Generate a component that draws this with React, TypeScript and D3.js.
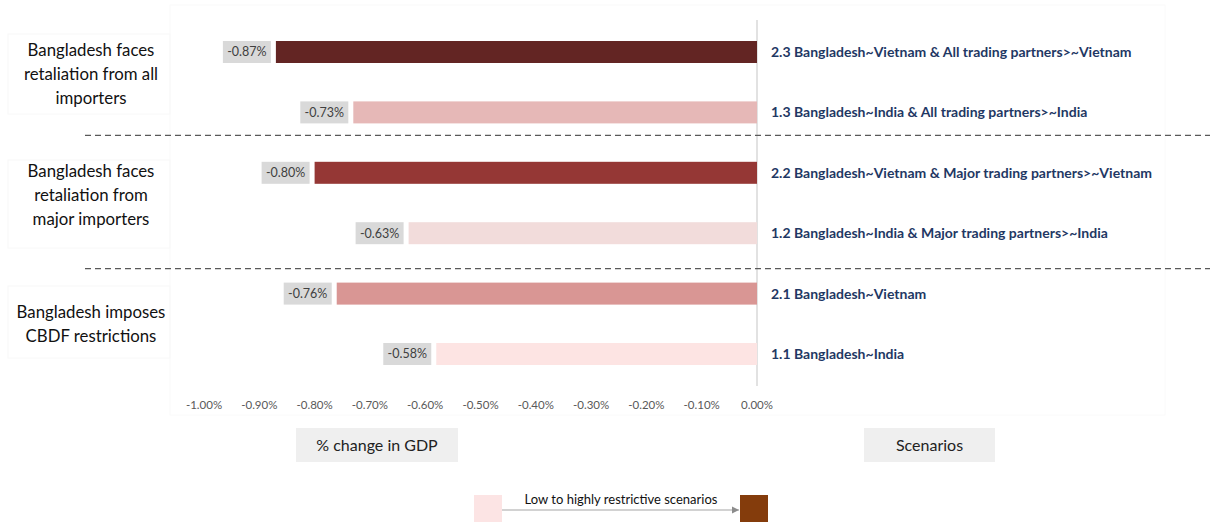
import React from "react";
import * as d3 from "d3";

const scenarios = [
  "2.3 Bangladesh~Vietnam & All trading partners>~Vietnam",
  "1.3 Bangladesh~India & All trading partners>~India",
  "2.2 Bangladesh~Vietnam & Major trading partners>~Vietnam",
  "1.2 Bangladesh~India & Major trading partners>~India",
  "2.1 Bangladesh~Vietnam",
  "1.1 Bangladesh~India",
];
const values = [-0.87, -0.73, -0.8, -0.63, -0.76, -0.58];
const barColors = ["#632523", "#E6B8B7", "#953735", "#F2DCDB", "#D99694", "#FDE4E3"];
const tickValues = [-1.0, -0.9, -0.8, -0.7, -0.6, -0.5, -0.4, -0.3, -0.2, -0.1, 0];
const groupLabels = [
  ["Bangladesh faces", "retaliation from all", "importers"],
  ["Bangladesh faces", "retaliation from", "major importers"],
  ["Bangladesh imposes", "CBDF restrictions"],
];
const groupRows = [
  [0, 1],
  [2, 3],
  [4, 5],
];

const W = 1210;
const H = 522;
const FONT = "Lato, 'Open Sans', sans-serif";

export default function App() {
  const x = d3.scaleLinear().domain([-1, 0]).range([204, 757]);
  const y = d3.scalePoint<string>().domain(scenarios).range([21.8, 384.2]).padding(0.5);
  const barH = 22;
  const fmt = (v: number) => d3.format(".2f")(v).replace("\u2212", "-") + "%";
  const dashY = [y(scenarios[1])! + 23, y(scenarios[4])! - 25];

  return (
    <svg width={W} height={H} style={{ position: "absolute", left: 0, top: 0, background: "#fff" }} fontFamily={FONT}>
      {/* faint frames */}
      <rect x={170} y={5} width={995} height={410} fill="none" stroke="#FAFAFA" />
      {[[8, 34, 162, 80], [8, 160, 162, 88], [8, 286, 162, 72]].map((r, i) => (
        <rect key={i} x={r[0]} y={r[1]} width={r[2]} height={r[3]} fill="none" stroke="#F8F8F8" />
      ))}

      {/* zero line */}
      <line x1={x(0)} x2={x(0)} y1={20} y2={386} stroke="#D9D9D9" strokeWidth={1.5} />

      {/* dashed separators */}
      {dashY.map((dy, i) => (
        <line key={i} x1={85} x2={W} y1={dy} y2={dy} stroke="#595959" strokeWidth={1.2} strokeDasharray="6,4" />
      ))}

      {/* bars */}
      {scenarios.map((s, i) => {
        const cy = y(s)!;
        const x0 = x(values[i]);
        return (
          <g key={s}>
            <rect x={x0} y={cy - barH / 2} width={x(0) - x0} height={barH} fill={barColors[i]} />
            <rect x={x0 - 53} y={cy - barH / 2} width={48} height={barH} fill="#D9D9D9" />
            <text x={x0 - 29} y={cy} dy="0.35em" textAnchor="middle" fontSize={12.5} fill="#404040">
              {fmt(values[i])}
            </text>
            <text x={771} y={cy} dy="0.35em" fontSize={14} fontWeight="bold" fill="#1F3864">
              {s}
            </text>
          </g>
        );
      })}

      {/* group labels */}
      {groupLabels.map((lines, gi) => {
        const c = (y(scenarios[groupRows[gi][0]])! + y(scenarios[groupRows[gi][1]])!) / 2 + (gi === 2 ? 0 : -8);
        const lh = 24;
        const start = c - ((lines.length - 1) * lh) / 2;
        return (
          <text key={gi} textAnchor="middle" fontSize={16.8} fill="#111">
            {lines.map((l, li) => (
              <tspan key={li} x={91} y={start + li * lh} dy="0.35em">
                {l}
              </tspan>
            ))}
          </text>
        );
      })}

      {/* x axis tick labels */}
      {tickValues.map((t) => (
        <text key={t} x={x(t)} y={405} dy="0.35em" textAnchor="middle" fontSize={11.5} fill="#595959">
          {fmt(t)}
        </text>
      ))}

      {/* bottom boxes */}
      <rect x={296} y={428} width={162} height={34} fill="#EFEFEF" />
      <text x={377} y={445} dy="0.35em" textAnchor="middle" fontSize={16} fill="#222">
        % change in GDP
      </text>
      <rect x={864} y={428} width={131} height={34} fill="#EFEFEF" />
      <text x={929.5} y={445} dy="0.35em" textAnchor="middle" fontSize={16} fill="#222">
        Scenarios
      </text>

      {/* legend */}
      <defs>
        <marker id="arr" viewBox="0 0 10 10" refX={10} refY={5} markerWidth={6} markerHeight={6} orient="auto">
          <path d="M0,0 L10,5 L0,10 z" fill="#8C8C8C" />
        </marker>
      </defs>
      <rect x={474} y={495} width={28} height={27} fill="#FCE4E4" />
      <rect x={740} y={495} width={28} height={27} fill="#843C0C" />
      <line x1={502} x2={739} y1={510} y2={510} stroke="#A6A6A6" strokeWidth={1.2} markerEnd="url(#arr)" />
      <text x={621} y={499} dy="0.35em" textAnchor="middle" fontSize={13} fill="#111">
        Low to highly restrictive scenarios
      </text>
    </svg>
  );
}
